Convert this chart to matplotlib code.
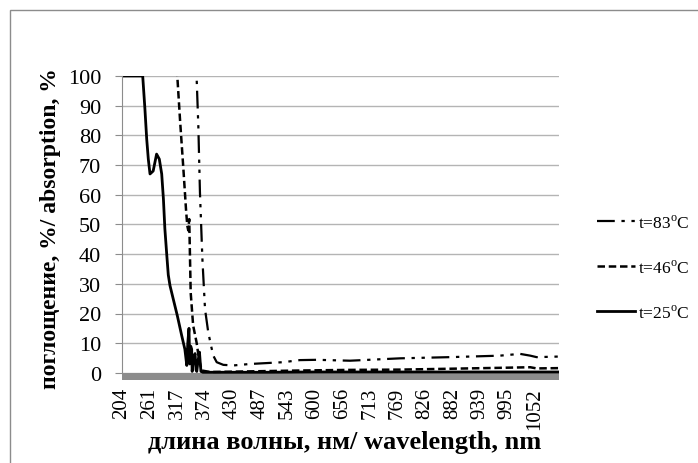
import matplotlib
matplotlib.use('Agg')
import matplotlib.pyplot as plt
from matplotlib.patches import Rectangle

plt.rcParams['font.family'] = ['Liberation Serif', 'DejaVu Serif']
plt.rcParams['mathtext.fontset'] = 'custom'
plt.rcParams['mathtext.rm'] = 'Liberation Serif'

# Данные (нм, %)
wl_25 = [204, 246.5, 251, 254.7, 258, 261.5, 268, 275, 280.6, 285.5, 289, 292, 296,
         299, 302.5, 309, 317.5, 326.5, 333, 337, 339, 341.5, 343, 345, 347, 348, 351,
         354, 356, 357.5, 360, 363, 366, 370, 400, 500, 600, 700, 800, 900, 1000, 1101]
abs_25 = [100, 100, 89, 78.8, 72, 67, 68, 73.7, 72, 67, 58.6, 48.5, 39.5,
          33, 29.4, 25, 19.3, 12.6, 8, 2.5, 10, 15, 3, 9, 8, 0.5, 5,
          6.5, 1, 0.5, 4, 7, 0.5, 0.2, 0.2, 0.2, 0.3, 0.3, 0.3, 0.3, 0.3, 0.3]

wl_46 = [310, 317.5, 323, 330, 335.4, 338, 340, 342, 345, 350, 357, 362, 367.6,
         385, 430, 500, 570, 670, 775, 880, 980, 1042, 1055, 1101]
abs_46 = [110, 100, 85.5, 68.7, 55, 49.6, 48, 51.8, 27, 16, 10.3, 4.7, 0.8,
          0.3, 0.4, 0.6, 0.8, 1.0, 1.1, 1.4, 1.7, 1.9, 1.5, 1.6]

wl_83 = [355, 357.4, 360.7, 364, 369, 374.4, 381, 386.7, 391.4, 398.4, 412, 432.5,
         467, 535, 569, 604, 672, 775, 877, 980, 1021, 1042, 1055, 1101]
abs_83 = [110, 98.4, 83, 60.8, 38.4, 21.5, 13.7, 9.2, 5.8, 3.6, 2.7, 2.5,
          3.0, 3.6, 4.3, 4.4, 4.1, 4.9, 5.3, 5.8, 6.4, 5.8, 5.3, 5.5]

xticks = [204, 261, 317, 374, 430, 487, 543, 600, 656, 713, 769, 826, 882, 939, 995, 1052]
yticks = [0, 10, 20, 30, 40, 50, 60, 70, 80, 90, 100]

fig = plt.figure(figsize=(6.98, 4.64), dpi=100)
ax = fig.add_axes([122/698, 1-381/464, 437/698, 304/464])

ax.plot(wl_83, abs_83, color='black', lw=1.6, dashes=(8, 3, 1.5, 3, 1.5, 3),
        label='t=83$^{\\mathregular{o}}$C')
ax.plot(wl_46, abs_46, color='black', lw=1.8, dashes=(3, 1.5),
        label='t=46$^{\\mathregular{o}}$C')
ax.plot(wl_25, abs_25, color='black', lw=2, label='t=25$^{\\mathregular{o}}$C')

# серое "дно" под нулём
ax.axhspan(-2.4, 0, color='#8c8c8c', lw=0, zorder=1.5)

ax.set_xlim(204, 1101)
ax.set_ylim(-2.4, 100)
ax.set_yticks(yticks)
ax.set_xticks(xticks)
ax.set_xticklabels([str(t) for t in xticks], rotation=90)
ax.grid(axis='y', color='#b4b4b4', lw=1)
ax.set_axisbelow(True)
for s in ['top', 'right', 'bottom']:
    ax.spines[s].set_visible(False)
ax.spines['left'].set_color('#8c8c8c')
ax.spines['left'].set_bounds(0, 100)
ax.tick_params(axis='y', length=5, color='#8c8c8c', labelsize=16, pad=10)
ax.tick_params(axis='x', length=0, labelsize=15, pad=5)

ax.set_ylabel('поглощение, %/ absorption, %', fontsize=17, fontweight='bold')
ax.yaxis.set_label_coords(-0.14, 0.5)
ax.set_xlabel('длина волны, нм/ wavelength, nm', fontsize=19, fontweight='bold')
ax.xaxis.set_label_coords(0.51, -0.165)

fig.legend(loc='center left', bbox_to_anchor=(0.855, 0.421), frameon=False,
           fontsize=12.5, labelspacing=1.6, handlelength=2.2, handletextpad=0.15,
           borderpad=0, borderaxespad=0)

# рамка области диаграммы
fig.patches.append(Rectangle((10/698, -0.1), 1.2, 0.976 + 0.1, transform=fig.transFigure,
                             fill=False, ec='#8c8c8c', lw=1))

fig.savefig('out.png', dpi=100)
